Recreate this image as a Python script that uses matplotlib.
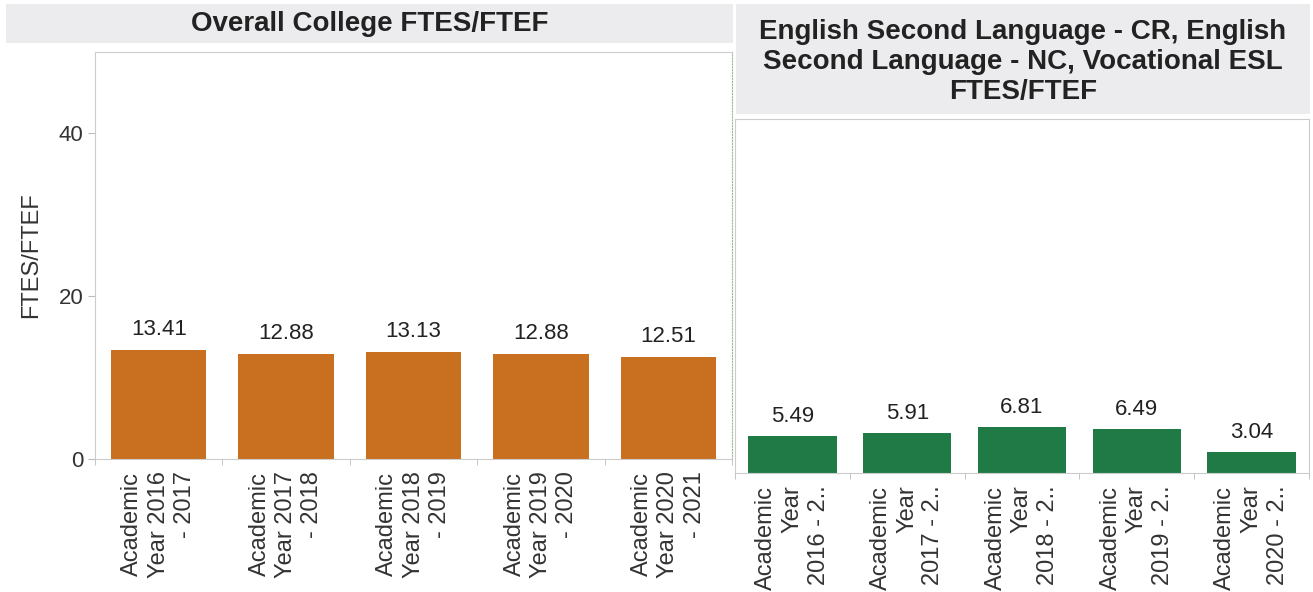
import matplotlib.pyplot as plt
from matplotlib.patches import Rectangle

plt.rcParams['font.family'] = ['Liberation Sans', 'DejaVu Sans']

# data
overall_labels = ["Academic\nYear 2016\n- 2017", "Academic\nYear 2017\n- 2018",
                  "Academic\nYear 2018\n- 2019", "Academic\nYear 2019\n- 2020",
                  "Academic\nYear 2020\n- 2021"]
overall_vals = [13.41, 12.88, 13.13, 12.88, 12.51]

esl_labels = ["Academic\nYear\n2016 - 2..", "Academic\nYear\n2017 - 2..",
              "Academic\nYear\n2018 - 2..", "Academic\nYear\n2019 - 2..",
              "Academic\nYear\n2020 - 2.."]
esl_vals = [5.49, 5.91, 6.81, 6.49, 3.04]

W, H = 1313, 592
fig = plt.figure(figsize=(W / 100, H / 100), dpi=100)

def px_axes(x0, y0, x1, y1):
    # pixel box (top-left origin) -> figure axes
    return fig.add_axes([x0 / W, 1 - y1 / H, (x1 - x0) / W, (y1 - y0) / H])

def band(x0, y0, x1, y1, ty, text):
    fig.patches.append(Rectangle((x0 / W, 1 - y1 / H), (x1 - x0) / W, (y1 - y0) / H,
                                 transform=fig.transFigure, facecolor='#ececef',
                                 edgecolor='none', zorder=0))
    fig.text((x0 + x1) / 2 / W, 1 - ty / H, text, ha='center', va='center',
             fontsize=20, fontweight='bold', color='#222222', linespacing=1.22)

band(6, 4, 733, 43, 24, "Overall College FTES/FTEF")
band(736, 4, 1310, 114, 62, "English Second Language - CR, English\nSecond Language - NC, Vocational ESL\nFTES/FTEF")

def draw(ax, vals, labels, color, width, top, show_y):
    x = range(len(vals))
    ax.bar(x, vals, width=width, color=color)
    for i, v in zip(x, vals):
        ax.text(i, v + top * 0.025, f"{v:.2f}", ha='center', va='bottom', fontsize=16, color='#222222')
    ax.set_xlim(-0.5, len(vals) - 0.5)
    ax.set_ylim(0, top)
    ax.set_xticks(list(x))
    ax.set_xticklabels(labels, rotation=90, ha='center', va='top', multialignment='right',
                       fontsize=17, color='#333333', linespacing=1.25)
    ax.tick_params(axis='x', length=0, pad=9)
    ax.set_xticks([i + 0.5 for i in range(-1, len(vals))], minor=True)
    ax.tick_params(axis='x', which='minor', length=4, color='#bbbbbb')
    for s in ax.spines.values():
        s.set_color('#cccccc')
    if show_y:
        ax.set_yticks([0, 20, 40])
        ax.tick_params(axis='y', labelsize=16, labelcolor='#333333', color='#bbbbbb', length=5)
        ax.set_ylabel("FTES/FTEF", fontsize=17, color='#333333', labelpad=12)
    else:
        ax.set_yticks([])

ax1 = px_axes(95, 52, 732, 459)
draw(ax1, overall_vals, overall_labels, '#c97020', 0.75, 50, True)
ax1.spines['right'].set_color('#9ab89a')
ax1.spines['right'].set_linestyle(':')

ax2 = px_axes(735, 119, 1309, 473)
draw(ax2, esl_vals, esl_labels, '#1f7a45', 0.77, 52, False)

fig.savefig("out.png", dpi=100)
